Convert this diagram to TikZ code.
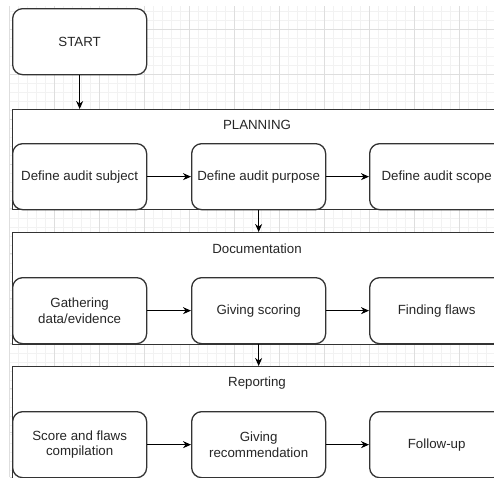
\documentclass[tikz,border=0pt]{standalone}
\usepackage{fontspec}
\setmainfont{Liberation Sans}
\usetikzlibrary{arrows.meta}
\definecolor{lineclr}{HTML}{333333}
\definecolor{gridminor}{HTML}{F2F2F2}
\definecolor{gridmajor}{HTML}{DEDEDE}
\tikzset{
  stepbox/.style={draw=lineclr, line width=1.3pt, rounded corners=10pt, fill=white,
    minimum width=134pt, minimum height=66pt, anchor=north west, align=center,
    inner sep=0pt, font=\fontsize{13.3}{15.5}\selectfont, text=black!85},
  phase/.style={draw=lineclr, line width=1.4pt, fill=white, anchor=north west,
    minimum width=491pt, inner sep=0pt},
  phasetitle/.style={font=\fontsize{13.3}{15.5}\selectfont, text=black!85, inner sep=0pt},
  flow/.style={draw=black, line width=1.2pt, -{Stealth[length=8pt,width=7pt]}}
}
\begin{document}
\begin{tikzpicture}[x=1pt,y=-1pt]
\useasboundingbox (0,0) rectangle (494,477);
\clip (0,0) rectangle (494,477);
\fill[white] (0,0) rectangle (494,477);
% grid
\foreach \i in {0,...,56} {
  \draw[gridminor, line width=0.6pt] ({9.5+9*\i},6) -- ({9.5+9*\i},477);
}
\foreach \j in {0,...,53} {
  \draw[gridminor, line width=0.6pt] (9.5,{11.5+9*\j}) -- (494,{11.5+9*\j});
}
\foreach \i in {0,...,11} {
  \draw[gridmajor, line width=0.8pt] ({9.5+45*\i},6) -- ({9.5+45*\i},477);
}
\foreach \j in {0,...,10} {
  \draw[gridmajor, line width=0.8pt] (9.5,{29.5+44.8*\j}) -- (494,{29.5+44.8*\j});
}

% start
\node[stepbox] (start) at (12,8) {START};

% planning
\node[phase, minimum height=100pt] (plan) at (12,109) {};
\node[phasetitle] (plant) at (257,125) {PLANNING};
\node[stepbox] (p1) at (12,143) {Define audit subject};
\node[stepbox] (p2) at (191,143) {Define audit purpose};
\node[stepbox] (p3) at (369,143) {Define audit scope};

% documentation
\node[phase, minimum height=112pt] (doc) at (12,232) {};
\node[phasetitle] (doct) at (257,249) {Documentation};
\node[stepbox] (d1) at (12,277) {Gathering\\data/evidence};
\node[stepbox] (d2) at (191,277) {Giving scoring};
\node[stepbox] (d3) at (369,277) {Finding flaws};

% reporting
\node[phase, minimum height=112pt] (rep) at (12,366) {};
\node[phasetitle] (rept) at (257,383) {Reporting};
\node[stepbox] (r1) at (12,411) {Score and flaws\\compilation};
\node[stepbox] (r2) at (191,411) {Giving\\recommendation};
\node[stepbox] (r3) at (369,411) {Follow-up};

% connectors
\draw[flow] (start.south) -- (start.south |- plan.north);
\draw[flow] (p1) -- (p2);
\draw[flow] (p2) -- (p3);
\draw[flow] (p2.south) -- (p2.south |- doc.north);
\draw[flow] (d1) -- (d2);
\draw[flow] (d2) -- (d3);
\draw[flow] (d2.south) -- (d2.south |- rep.north);
\draw[flow] (r1) -- (r2);
\draw[flow] (r2) -- (r3);
\end{tikzpicture}
\end{document}
